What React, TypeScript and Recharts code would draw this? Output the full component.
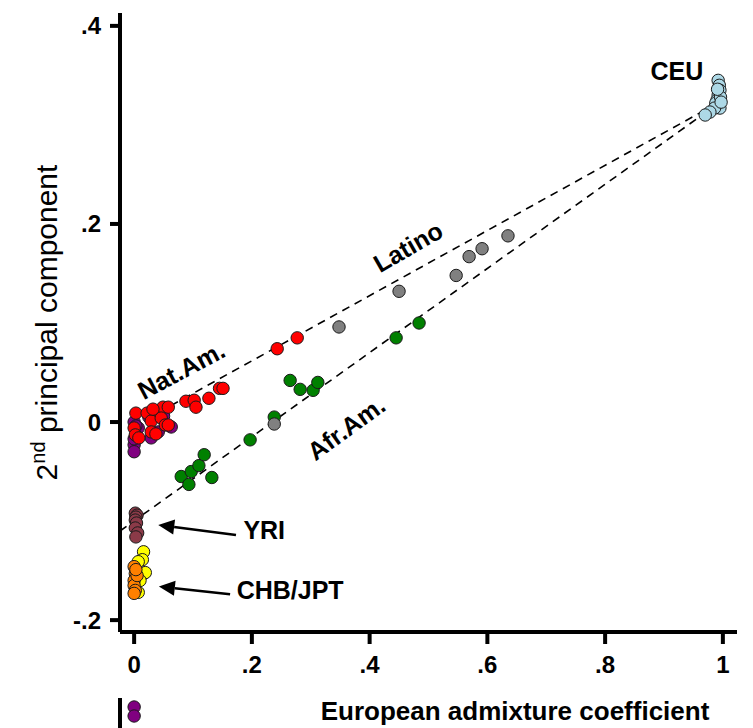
import { ReferenceLine, Scatter, ScatterChart, XAxis, YAxis } from 'recharts';

const FONT = '"Liberation Sans", Arial, Helvetica, sans-serif';

// European admixture coefficient (x) and 2nd principal component (y) per individual
const natAmPurpleX = [0.0, 0.0, 0.0, 0.007, 0.029, 0.037, 0.063, 0.041, 0.0, 0.003, 0.025, 0.05];
const natAmPurpleY = [0.0, -0.023, -0.03, -0.006, -0.016, 0.01, -0.005, -0.01, -0.017, -0.004, 0.005, 0.006];

const natAmRedX = [0.003, 0.022, 0.041, 0.049, 0.058, 0.029, 0.046, 0.053, 0.058, 0.0, 0.002, 0.008, 0.029, 0.037, 0.032, 0.088, 0.102, 0.105, 0.127, 0.145, 0.151, 0.243, 0.277];
const natAmRedY = [0.009, 0.009, 0.01, 0.015, 0.015, 0.001, 0.004, -0.003, -0.003, -0.006, -0.013, -0.016, -0.01, -0.012, 0.013, 0.021, 0.022, 0.015, 0.024, 0.034, 0.034, 0.074, 0.085];

const afrAmX = [0.08, 0.093, 0.097, 0.11, 0.119, 0.132, 0.197, 0.238, 0.265, 0.282, 0.304, 0.312, 0.445, 0.484];
const afrAmY = [-0.055, -0.063, -0.05, -0.044, -0.033, -0.056, -0.018, 0.005, 0.042, 0.033, 0.032, 0.04, 0.085, 0.1];

const latinoX = [0.238, 0.348, 0.45, 0.547, 0.569, 0.591, 0.635];
const latinoY = [-0.002, 0.096, 0.132, 0.148, 0.167, 0.175, 0.188];

const ceuX = [0.992, 0.994, 0.995, 0.992, 0.99, 0.993, 0.995, 0.988, 0.986, 0.978, 0.97, 0.996, 0.997, 0.991];
const ceuY = [0.345, 0.34, 0.335, 0.33, 0.325, 0.32, 0.317, 0.322, 0.317, 0.313, 0.31, 0.328, 0.323, 0.336];

const yriX = [0.002, 0.005, 0.003, 0.002, 0.004, 0.002, 0.006, 0.003];
const yriY = [-0.092, -0.094, -0.096, -0.099, -0.102, -0.107, -0.112, -0.116];

const chbYellowX = [0.016, 0.014, 0.016, 0.019, 0.007, 0.007, 0.01];
const chbYellowY = [-0.131, -0.139, -0.153, -0.152, -0.141, -0.172, -0.16];

const chbOrangeX = [0.0, 0.002, 0.0, 0.0, 0.002, 0.005, 0.0, 0.003];
const chbOrangeY = [-0.146, -0.153, -0.16, -0.165, -0.17, -0.155, -0.173, -0.149];

// two Nat.Am. individuals far below the axis break
const outlierX = [0.0, 0.0];
const outlierY = [-0.588, -0.606];

// group labels
const labelText = ['CEU', 'Latino', 'Nat.Am.', 'Afr.Am.', 'YRI', 'CHB/JPT'];
const labelX = [0.922, 0.465, 0.08, 0.36, 0.221, 0.265];
const labelY = [0.3545, 0.177, 0.0525, -0.006, -0.109, -0.17];
const labelAngle = [0, -30, -28, -36, 0, 0];

// admixture lines towards CEU, and the pointer arrows (tip first)
const latinoLine = [{ x: 0, y: -0.004 }, { x: 1, y: 0.325 }];
const afrAmLine = [{ x: -0.024, y: -0.11 }, { x: 1, y: 0.325 }];
const yriArrow = [{ x: 0.041, y: -0.104 }, { x: 0.173, y: -0.114 }];
const chbArrow = [{ x: 0.042, y: -0.166 }, { x: 0.163, y: -0.174 }];

const xTicks = [0, 0.2, 0.4, 0.6, 0.8, 1];
const yTicks = [-0.2, 0, 0.2, 0.4];

const zip = (xs: number[], ys: number[]) => xs.map((x, i) => ({ x, y: ys[i] }));
const labels = labelText.map((text, i) => ({ x: labelX[i], y: labelY[i], text, angle: labelAngle[i] }));

const fmt = (v: number) => (Number.isInteger(v) ? String(v) : v.toFixed(1).replace('0.', '.'));

const tickStyle = { fontFamily: FONT, fontSize: 24, fontWeight: 700, fill: '#000' };

const dot = (color: string) => (props: any) => (
  <circle cx={props.cx} cy={props.cy} r={6.2} fill={color} stroke="#1a1a1a" strokeWidth={1} />
);

const groupLabel = (props: any) => {
  const { cx, cy, payload } = props;
  return (
    <text
      x={cx}
      y={cy}
      transform={`rotate(${payload.angle}, ${cx}, ${cy})`}
      textAnchor="middle"
      dominantBaseline="central"
      fontFamily={FONT}
      fontSize={25}
      fontWeight={700}
      fill="#000"
    >
      {payload.text}
    </text>
  );
};

const arrow = (props: any) => {
  const { x1, y1, x2, y2 } = props;
  const a = Math.atan2(y2 - y1, x2 - x1);
  const len = 16;
  const half = 7.5;
  const bx = x1 + Math.cos(a) * len;
  const by = y1 + Math.sin(a) * len;
  const px = -Math.sin(a) * half;
  const py = Math.cos(a) * half;
  return (
    <g>
      <line x1={bx} y1={by} x2={x2} y2={y2} stroke="#000" strokeWidth={2.5} />
      <polygon points={`${x1},${y1} ${bx + px},${by + py} ${bx - px},${by - py}`} fill="#000" />
    </g>
  );
};

const YTitle = (props: any) => {
  const { viewBox } = props;
  const x = viewBox.x + 57;
  const y = viewBox.y + viewBox.height / 2;
  return (
    <text x={x} y={y} transform={`rotate(-90, ${x}, ${y})`} textAnchor="middle" fontFamily={FONT} fontSize={30} fill="#000">
      2<tspan dy={-12} fontSize={20}>nd</tspan>
      <tspan dy={12}> principal component</tspan>
    </text>
  );
};

const XTitle = (props: any) => {
  const { viewBox } = props;
  return (
    <text x={viewBox.x + 395} y={viewBox.y + 88} textAnchor="middle" fontFamily={FONT} fontSize={26} fontWeight={700} fill="#000">
      European admixture coefficient
    </text>
  );
};

export default function App() {
  return (
    <div style={{ position: 'absolute', left: 0, top: 0, width: 753, height: 728, background: '#fff' }}>
      <ScatterChart width={753} height={728} margin={{ top: 13, right: 16, bottom: 0, left: 0 }} style={{ position: 'absolute', left: 0, top: 0 }}>
        <XAxis
          type="number"
          dataKey="x"
          domain={[-0.024, 1.024]}
          ticks={xTicks}
          tickFormatter={fmt}
          height={96}
          tick={tickStyle}
          tickSize={12}
          tickMargin={12}
          axisLine={{ stroke: '#000', strokeWidth: 4 }}
          tickLine={{ stroke: '#000', strokeWidth: 4 }}
          label={<XTitle />}
        />
        <YAxis
          type="number"
          dataKey="y"
          domain={[-0.212, 0.413]}
          ticks={yTicks}
          tickFormatter={fmt}
          width={120}
          tick={tickStyle}
          tickSize={10}
          tickMargin={9}
          axisLine={{ stroke: '#000', strokeWidth: 4 }}
          tickLine={{ stroke: '#000', strokeWidth: 4 }}
          label={<YTitle />}
        />
        <Scatter data={zip(natAmPurpleX, natAmPurpleY)} shape={dot('#800080')} isAnimationActive={false} />
        <Scatter data={zip(natAmRedX, natAmRedY)} shape={dot('#ff0000')} isAnimationActive={false} />
        <Scatter data={zip(afrAmX, afrAmY)} shape={dot('#008000')} isAnimationActive={false} />
        <Scatter data={zip(latinoX, latinoY)} shape={dot('#808080')} isAnimationActive={false} />
        <Scatter data={zip(ceuX, ceuY)} shape={dot('#add8e6')} isAnimationActive={false} />
        <Scatter data={zip(yriX, yriY)} shape={dot('#8b3a48')} isAnimationActive={false} />
        <Scatter data={zip(chbYellowX, chbYellowY)} shape={dot('#ffff00')} isAnimationActive={false} />
        <Scatter data={zip(chbOrangeX, chbOrangeY)} shape={dot('#ff8000')} isAnimationActive={false} />
        <ReferenceLine segment={latinoLine} stroke="#000" strokeWidth={1.6} strokeDasharray="8 6" ifOverflow="visible" />
        <ReferenceLine segment={afrAmLine} stroke="#000" strokeWidth={1.6} strokeDasharray="8 6" ifOverflow="visible" />
        <ReferenceLine segment={yriArrow} shape={arrow} ifOverflow="visible" />
        <ReferenceLine segment={chbArrow} shape={arrow} ifOverflow="visible" />
        <Scatter data={labels} shape={groupLabel} isAnimationActive={false} />
      </ScatterChart>

      {/* broken-axis panel for the outliers */}
      <ScatterChart width={753} height={40} margin={{ top: 10, right: 16, bottom: 0, left: 0 }} style={{ position: 'absolute', left: 0, top: 688 }}>
        <XAxis type="number" dataKey="x" domain={[-0.024, 1.024]} hide />
        <YAxis
          type="number"
          dataKey="y"
          domain={[-0.63, -0.57]}
          width={120}
          tick={false}
          tickLine={false}
          axisLine={{ stroke: '#000', strokeWidth: 4 }}
        />
        <Scatter data={zip(outlierX, outlierY)} shape={dot('#800080')} isAnimationActive={false} />
      </ScatterChart>
    </div>
  );
}
